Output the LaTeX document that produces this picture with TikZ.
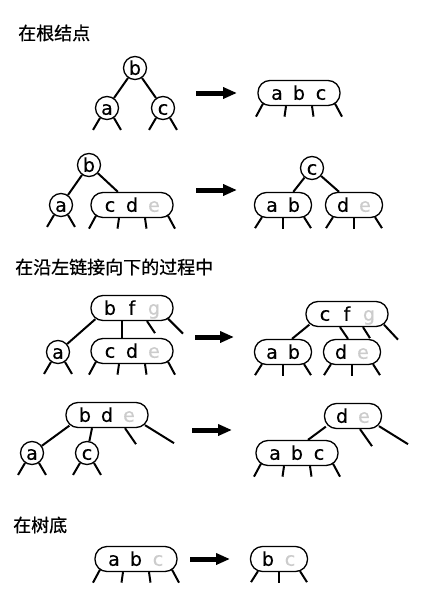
\documentclass[tikz,border=0pt]{standalone}
\usepackage{fontspec}
\newfontfamily\keyfont[FakeBold=0.4]{DejaVu Sans}
\newfontfamily\cjk[FakeBold=0.8]{Noto Sans CJK SC}
\usetikzlibrary{arrows.meta}
\definecolor{ghost}{gray}{0.8}

\tikzset{
  key/.style={font=\keyfont\fontsize{19}{19}\selectfont, text height=13.5pt, text depth=0pt, inner sep=0pt},
  one/.style={key, circle, draw, line width=1.3pt, minimum size=23pt},
  three/.style={key, rectangle, draw, rounded corners=12pt, line width=1.3pt, minimum width=82pt, minimum height=25pt},
  two/.style={three, minimum width=57pt},
  link/.style={line width=2pt},
  leg/.style={line width=2pt},
  go/.style={line width=5pt, -{Triangle[length=14pt,width=11pt]}},
  title/.style={font=\cjk\fontsize{18}{18}\selectfont, anchor=west, inner sep=0pt},
}
% one key slot inside a node, black or light grey
\newcommand\kk[1]{\makebox[22pt]{#1}}
\newcommand\kg[1]{\makebox[22pt]{\color{ghost}#1}}
% dangling child links under a node
\newcommand\legsone[1]{%
  \draw[leg] (#1.235) -- ++(-7,12);
  \draw[leg] (#1.305) -- ++(7,12);}
\newcommand\legstwo[1]{%
  \draw[leg] ([shift={(-21,-1)}]#1.south) -- ++(-7,11);
  \draw[leg] (#1.south) -- ++(0,10.5);
  \draw[leg] ([shift={(21,-1)}]#1.south) -- ++(7,11);}
\newcommand\legsthree[1]{%
  \draw[leg] ([shift={(-36,-2.5)}]#1.south) -- ++(-7,13);
  \draw[leg] ([xshift=-13pt]#1.south) -- ++(-1.5,10.5);
  \draw[leg] ([xshift=13pt]#1.south) -- ++(1.5,10.5);
  \draw[leg] ([shift={(36,-2.5)}]#1.south) -- ++(7,13);}

\begin{document}
\begin{tikzpicture}[x=1pt, y=-1pt]
\fill[white] (0,0) rectangle (425,594);
\useasboundingbox (0,0) rectangle (425,594);

% ---- at the root
\node[title] (t1) at (18,33) {在根结点};
\node[one] (b1) at (135,68) {b};
\node[one] (a1) at (107,108) {a};
\node[one] (c1) at (163,108) {c};
\draw[link] (b1) -- (a1);
\draw[link] (b1) -- (c1);
\legsone{a1}\legsone{c1}
\coordinate (s1) at (196,93); \coordinate (e1) at (237,93);
\draw[go] (s1) -- (e1);
\node[three] (abc1) at (299,93) {\kk a\kk b\kk c};
\legsthree{abc1}

% ---- split of a 4-node below the root
\node[one] (b2) at (89,165) {b};
\node[one] (a2) at (61,205) {a};
\node[three] (cde2) at (132,205) {\kk c\kk d\kg e};
\draw[link] (b2) -- (a2);
\draw[link] (b2) -- (cde2);
\legsone{a2}\legsthree{cde2}
\coordinate (s2) at (196,190); \coordinate (e2) at (237,190);
\draw[go] (s2) -- (e2);
\node[one] (c2) at (312,168) {c};
\node[two] (ab2) at (283,205) {\kk a\kk b};
\node[two] (de2) at (354,205) {\kk d\kg e};
\draw[link] (c2) -- (ab2);
\draw[link] (c2) -- (de2);
\legstwo{ab2}\legstwo{de2}

% ---- on the way down the left links
\node[title] (t2) at (15,267) {在沿左链接向下的过程中};
\node[three] (bfg3) at (132,308) {\kk b\kk f\kg g};
\node[three] (cde3) at (132,351) {\kk c\kk d\kg e};
\node[one] (a3) at (58,352) {a};
\draw[link] ([shift={(5,-2)}]bfg3.south west) -- (a3);
\draw[link] ([xshift=-10pt]bfg3.south) -- ([xshift=-10pt]cde3.north);
\draw[leg] ([xshift=15pt]bfg3.south) -- ++(8,12);
\draw[leg] ([shift={(36,-2.5)}]bfg3.south) -- ++(15,15);
\legsone{a3}\legsthree{cde3}
\coordinate (s3) at (195,337); \coordinate (e3) at (234,337);
\draw[go] (s3) -- (e3);
\node[three] (cfg3) at (347,314) {\kk c\kk f\kg g};
\node[two] (ab3) at (283,352) {\kk a\kk b};
\node[two] (de3) at (352,352) {\kk d\kg e};
\draw[link] ([shift={(4,-2.5)}]cfg3.south west) -- ([xshift=9pt]ab3.north);
\draw[link] ([xshift=-7pt]cfg3.south) -- ([xshift=-4pt]de3.north);
\draw[leg] ([xshift=16pt]cfg3.south) -- ++(7,11);
\draw[leg] ([shift={(37,-2.5)}]cfg3.south) -- ++(14,15);
\legstwo{ab3}\legstwo{de3}

\node[three] (bde4) at (107,415) {\kk b\kk d\kg e};
\node[one] (a4) at (32,453) {a};
\node[one] (c4) at (87,453) {c};
\draw[link] ([shift={(4,-2.5)}]bde4.south west) -- (a4);
\draw[link] ([xshift=-15pt]bde4.south) -- (c4);
\draw[leg] ([xshift=18pt]bde4.south) -- ++(11,16);
\draw[leg] ([shift={(38,-3)}]bde4.south) -- ++(29,18);
\legsone{a4}\legsone{c4}
\coordinate (s4) at (192,430); \coordinate (e4) at (232,430);
\draw[go] (s4) -- (e4);
\node[two] (de4) at (353,416) {\kk d\kg e};
\node[three] (abc4) at (297,453) {\kk a\kk b\kk c};
\draw[link] ([shift={(2,-2.5)}]de4.south west) -- ([xshift=11pt]abc4.north);
\draw[leg] ([xshift=7pt]de4.south) -- ++(12,17);
\draw[leg] ([shift={(26,-3)}]de4.south) -- ++(29,18);
\legsthree{abc4}

% ---- at the bottom
\node[title] (t3) at (13,525) {在树底};
\node[three] (abc5) at (136,559) {\kk a\kk b\kg c};
\legsthree{abc5}
\coordinate (s5) at (190,559); \coordinate (e5) at (230,559);
\draw[go] (s5) -- (e5);
\node[two] (bc5) at (279,559) {\kk b\kg c};
\legstwo{bc5}
\end{tikzpicture}
\end{document}
